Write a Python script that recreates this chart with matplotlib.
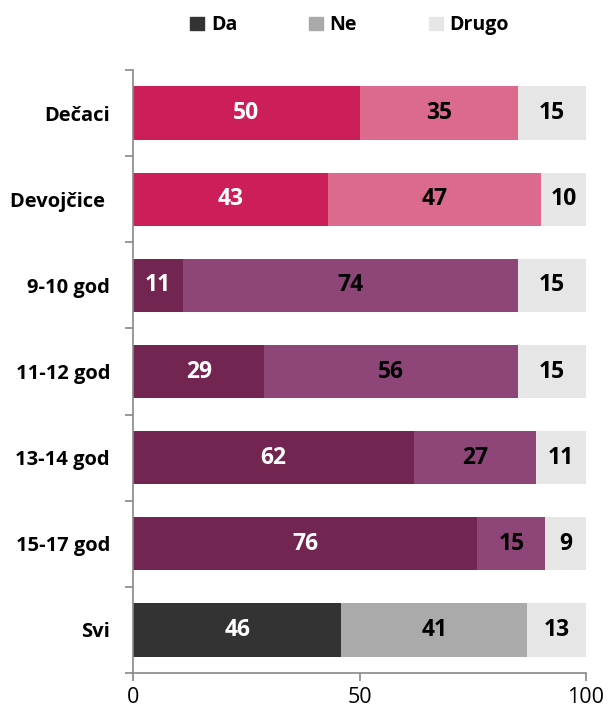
import matplotlib
matplotlib.use("Agg")
import matplotlib.pyplot as plt
from matplotlib.patches import Patch
import numpy as np

categories = ["Dečaci", "Devojčice ", "9-10 god", "11-12 god", "13-14 god", "15-17 god", "Svi"]
da = [50, 43, 11, 29, 62, 76, 46]
ne = [35, 47, 74, 56, 27, 15, 41]
drugo = [15, 10, 15, 15, 11, 9, 13]
legend_labels = ["Da", "Ne", "Drugo"]

da_colors = ["#CC1F5A", "#CC1F5A", "#722550", "#722550", "#722550", "#722550", "#333333"]
ne_colors = ["#DC6A8C", "#DC6A8C", "#8D4677", "#8D4677", "#8D4677", "#8D4677", "#AAAAAA"]
drugo_color = "#E6E6E6"

plt.rcParams['font.family'] = ['Open Sans', 'DejaVu Sans']

fig = plt.figure(figsize=(6.08, 7.16), dpi=100)
ax = fig.add_axes([133/608, 1-673/716, (586-133)/608, (673-70)/716])

y = np.arange(len(categories))
h = 0.62
ax.barh(y, da, height=h, color=da_colors)
ax.barh(y, ne, left=da, height=h, color=ne_colors)
left2 = [a + b for a, b in zip(da, ne)]
ax.barh(y, drugo, left=left2, height=h, color=drugo_color)

fs = 16.5
for i in range(len(categories)):
    ax.text(da[i]/2, y[i], str(da[i]), ha='center', va='center', color='white',
            fontsize=fs, fontweight='bold')
    ax.text(da[i] + ne[i]/2, y[i], str(ne[i]), ha='center', va='center', color='black',
            fontsize=fs, fontweight='bold')
    ax.text(left2[i] + drugo[i]/2, y[i], str(drugo[i]), ha='center', va='center', color='black',
            fontsize=fs, fontweight='bold')

ax.set_xlim(0, 100)
ax.set_ylim(len(categories)-0.5, -0.5)
ax.set_xticks([0, 50, 100])
ax.set_xticklabels(["0", "50", "100"], fontsize=15.5)
ax.set_yticks(y)
ax.set_yticklabels(categories, fontsize=14.5, fontweight='bold')
ax.set_yticks(np.arange(-0.5, len(categories)), minor=True)
ax.tick_params(axis='y', which='major', length=0, pad=16.5)
ax.tick_params(axis='y', which='minor', length=6, color='#888888', width=1.2)
ax.tick_params(axis='x', which='major', length=6, color='#888888', width=1.2, pad=4)

for s in ['top', 'right']:
    ax.spines[s].set_visible(False)
for s in ['left', 'bottom']:
    ax.spines[s].set_color('#888888')
    ax.spines[s].set_linewidth(1.2)

handles = [Patch(color=c) for c in ["#333333", "#AAAAAA", "#E6E6E6"]]
fig.legend(handles, legend_labels, loc='upper center', bbox_to_anchor=(0.575, 1.003), ncol=3,
           frameon=False, handlelength=0.7, handleheight=0.7, handletextpad=0.35,
           columnspacing=3.7, prop={'weight': 'bold', 'size': 14})

fig.savefig("out.png", dpi=100)
